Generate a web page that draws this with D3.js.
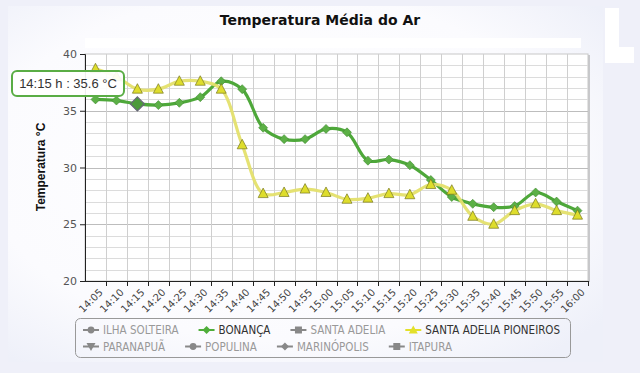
<!DOCTYPE html>
<html lang="pt">
<head>
<meta charset="UTF-8">
<title>Temperatura Média do Ar</title>
<script src="https://d3js.org/d3.v7.min.js"></script>
<style>
  html, body { margin: 0; padding: 0; background: #eff0f9; }
  svg { display: block; }
</style>
</head>
<body>
<svg id="chart" width="640" height="373"></svg>
<script>
  // horarios (eixo x)
  let horarios = ["14:05","14:10","14:15","14:20","14:25","14:30","14:35","14:40","14:45","14:50",
                  "14:55","15:00","15:05","15:10","15:15","15:20","15:25","15:30","15:35","15:40",
                  "15:45","15:50","15:55","16:00"];

  // temperaturas
  let bonanca = [36.0, 35.9, 35.6, 35.5, 35.7, 36.2, 37.6, 36.9, 33.5, 32.5,
                 32.5, 33.4, 33.1, 30.6, 30.7, 30.2, 28.9, 27.4, 26.8, 26.5,
                 26.6, 27.8, 27.0, 26.2];
  let pioneiros = [38.7, 38.0, 36.9, 36.9, 37.6, 37.6, 36.9, 32.0, 27.7, 27.8,
                   28.1, 27.8, 27.2, 27.3, 27.7, 27.6, 28.5, 28.0, 25.7, 25.0,
                   26.2, 26.8, 26.2, 25.8];

  let yTicks = [20, 25, 30, 35, 40];

  // legenda: nome, simbolo, cor (null = serie oculta)
  let legendNames = ["ILHA SOLTEIRA", "BONANÇA", "SANTA ADELIA", "SANTA ADELIA PIONEIROS",
                     "PARANAPUÃ", "POPULINA", "MARINÓPOLIS", "ITAPURA"];
  let legendSymbols = ["circle", "diamond", "square", "triangle",
                       "triangle-down", "circle", "diamond", "square"];
  let legendColors = [null, "#4fae3a", null, "#e3e02a", null, null, null, null];

  let svg = d3.select('#chart');
  let pLeft = 85, pRight = 588, pTop = 54, pBottom = 281;

  let x = d3.scaleBand().domain(horarios).range([pLeft, pRight]);
  let y = d3.scaleLinear().domain([20, 40]).range([pBottom, pTop]);

  // fundo
  let defs = svg.append('defs');
  let grad = defs.append('radialGradient').attr('id', 'bg').attr('cx', '45%').attr('cy', '45%').attr('r', '70%');
  grad.append('stop').attr('offset', '0%').attr('stop-color', '#ffffff');
  grad.append('stop').attr('offset', '70%').attr('stop-color', '#fbfbfe');
  grad.append('stop').attr('offset', '100%').attr('stop-color', '#eef0f9');
  svg.append('rect').attr('width', 640).attr('height', 373).attr('fill', '#eff0f9');
  svg.append('rect').attr('x', 8).attr('y', 6).attr('width', 595).attr('height', 356).attr('fill', 'url(#bg)');
  svg.append('rect').attr('x', 85).attr('y', 38).attr('width', 496).attr('height', 10).attr('fill', '#fff');
  svg.append('path').attr('d', 'M605,8H619V47H634V63H605Z').attr('fill', '#fff');

  // titulo
  svg.append('text')
    .attr('x', 320).attr('y', 25)
    .attr('text-anchor', 'middle')
    .style('font', 'bold 14px "DejaVu Sans", sans-serif')
    .style('fill', '#111')
    .text('Temperatura Média do Ar');

  // area do grafico
  svg.append('rect').attr('x', pLeft + 2).attr('y', pTop + 1).attr('width', pRight - pLeft).attr('height', pBottom - pTop)
    .attr('fill', '#9a9a9a').attr('opacity', 0.5);
  svg.append('rect').attr('x', pLeft).attr('y', pTop).attr('width', pRight - pLeft).attr('height', pBottom - pTop)
    .attr('fill', '#fff').attr('stroke', '#c8c8c8');

  // grade (horizontal a cada 1 grau, vertical nas bordas das faixas)
  let grid = svg.append('g');
  grid.selectAll('line.h')
    .data(d3.range(21, 40))
    .enter().append('line')
    .attr('x1', pLeft).attr('x2', pRight)
    .attr('y1', d => Math.round(y(d)) + 0.5).attr('y2', d => Math.round(y(d)) + 0.5)
    .attr('stroke', d => d % 5 === 0 ? '#bdbdbd' : '#dcdcdc');
  grid.selectAll('line.v')
    .data(horarios.slice(1))
    .enter().append('line')
    .attr('x1', d => Math.round(x(d)) + 0.5).attr('x2', d => Math.round(x(d)) + 0.5)
    .attr('y1', pTop).attr('y2', pBottom)
    .attr('stroke', '#cfcfcf');

  // eixo y
  let yAxis = svg.append('g')
    .attr('transform', `translate(${pLeft},0)`)
    .call(d3.axisLeft(y).tickValues(yTicks).tickSize(5).tickPadding(3));
  yAxis.select('.domain').attr('stroke', '#222');
  yAxis.selectAll('.tick line').attr('stroke', '#222');
  yAxis.selectAll('text').style('font', '11px "DejaVu Sans", sans-serif').style('fill', '#555');

  svg.append('text')
    .attr('transform', 'translate(45,167) rotate(-90)')
    .attr('text-anchor', 'middle')
    .style('font', 'bold 12px "Liberation Sans", Arial, sans-serif')
    .style('fill', '#111')
    .text('Temperatura  °C');

  // eixo x: marcas nas bordas das faixas
  let xAxis = svg.append('g');
  xAxis.append('line').attr('x1', pLeft).attr('x2', pRight + 1)
    .attr('y1', pBottom + 0.5).attr('y2', pBottom + 0.5).attr('stroke', '#222');
  xAxis.selectAll('line.tick')
    .data(horarios.slice(1).concat(['end']))
    .enter().append('line')
    .attr('x1', d => d === 'end' ? pRight + 0.5 : Math.round(x(d)) + 0.5)
    .attr('x2', d => d === 'end' ? pRight + 0.5 : Math.round(x(d)) + 0.5)
    .attr('y1', pBottom).attr('y2', pBottom + 5)
    .attr('stroke', '#222');
  xAxis.selectAll('text')
    .data(horarios)
    .enter().append('text')
    .attr('transform', d => `translate(${x(d) + x.bandwidth() / 2 + 3},${pBottom + 7}) rotate(-45)`)
    .attr('text-anchor', 'end')
    .attr('dy', '0.7em')
    .style('font', '10px "DejaVu Sans", sans-serif')
    .style('fill', '#444')
    .text(d => d);

  // linhas
  let cx = d => x(d) + x.bandwidth() / 2;
  let line = d3.line().x((d, i) => cx(horarios[i])).y(d => y(d)).curve(d3.curveCatmullRom.alpha(0.5));

  svg.append('path').datum(bonanca).attr('d', line)
    .attr('fill', 'none').attr('stroke', '#4ea83a').attr('stroke-width', 3.2);
  svg.append('path').datum(pioneiros).attr('d', line)
    .attr('fill', 'none').attr('stroke', '#e4e06c').attr('stroke-width', 3.2).attr('opacity', 0.95);

  // marcadores
  svg.append('g').selectAll('path')
    .data(bonanca)
    .enter().append('path')
    .attr('transform', (d, i) => `translate(${cx(horarios[i])},${y(d)})`)
    .attr('d', (d, i) => i === 2 ? 'M0,-7L7,0L0,7L-7,0Z' : 'M0,-4.5L4.5,0L0,4.5L-4.5,0Z')
    .attr('fill', (d, i) => i === 2 ? '#4c9a3b' : '#5cb046')
    .attr('stroke', (d, i) => i === 2 ? '#667' : '#3f8a30')
    .attr('stroke-width', (d, i) => i === 2 ? 1.2 : 0.6);

  svg.append('g').selectAll('path')
    .data(pioneiros)
    .enter().append('path')
    .attr('transform', (d, i) => `translate(${cx(horarios[i])},${y(d)})`)
    .attr('d', 'M0,-5.5L5,4L-5,4Z')
    .attr('fill', '#dedd2c')
    .attr('stroke', '#77771f')
    .attr('stroke-width', 0.7);

  // tooltip
  let tip = svg.append('g');
  tip.append('rect').attr('x', 12).attr('y', 71).attr('width', 112).attr('height', 25).attr('rx', 5)
    .attr('fill', '#fff').attr('fill-opacity', 0.92).attr('stroke', '#5aad45').attr('stroke-width', 2);
  tip.append('text').attr('x', 68).attr('y', 88).attr('text-anchor', 'middle')
    .style('font', '13px "Liberation Sans", Arial, sans-serif').style('fill', '#333')
    .text(`${horarios[2]} h : ${bonanca[2]} °C`);

  // legenda
  let legend = svg.append('g');
  legend.append('rect').attr('x', 75.5).attr('y', 318.5).attr('width', 495).attr('height', 39).attr('rx', 5)
    .attr('fill', 'none').attr('stroke', '#999');

  let sym = {
    circle: d3.symbol(d3.symbolCircle, 36)(),
    diamond: 'M0,-4L4,0L0,4L-4,0Z',
    square: 'M-3.5,-3.5H3.5V3.5H-3.5Z',
    triangle: 'M0,-4.5L4.5,3.5L-4.5,3.5Z',
    'triangle-down': 'M0,4.5L4.5,-3.5L-4.5,-3.5Z'
  };

  let rows = [[0, 1, 2, 3], [4, 5, 6, 7]];
  rows.forEach((row, r) => {
    let xpos = 83;
    let ypos = 330 + r * 16.5;
    row.forEach(i => {
      let col = legendColors[i] || '#888';
      let item = legend.append('g').attr('transform', `translate(${xpos},${ypos})`);
      item.append('line').attr('x1', 0).attr('x2', 16).attr('stroke', col).attr('stroke-width', 2);
      item.append('path').attr('transform', 'translate(8,0)').attr('d', sym[legendSymbols[i]]).attr('fill', col);
      let t = item.append('text').attr('x', 20).attr('dy', '0.36em')
        .style('font', '11.5px "DejaVu Sans Condensed", "Liberation Sans Narrow", sans-serif')
        .style('font-stretch', 'condensed')
        .style('fill', legendColors[i] ? '#333' : '#999')
        .text(legendNames[i]);
      xpos += 20 + t.node().getComputedTextLength() + 20;
    });
  });
</script>
</body>
</html>
